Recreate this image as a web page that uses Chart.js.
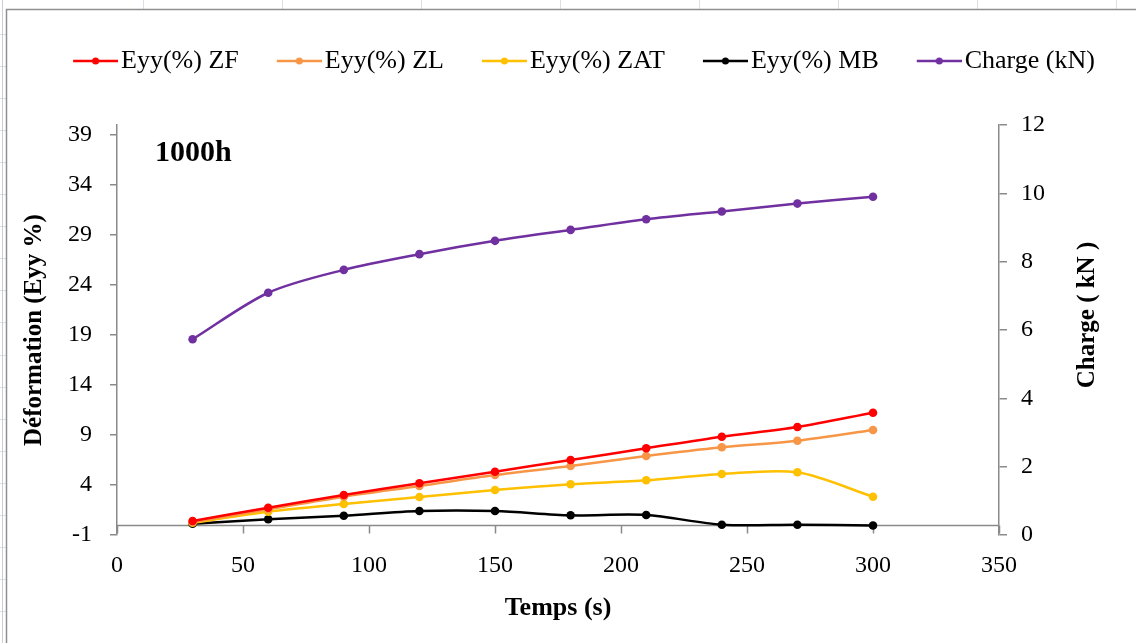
<!DOCTYPE html>
<html>
<head>
<meta charset="utf-8">
<script src="https://cdn.jsdelivr.net/npm/chart.js@4.4.1/dist/chart.umd.min.js"></script>
<style>
  html, body { margin: 0; padding: 0; background: #fff; }
  #wrap { width: 1136px; height: 643px; position: relative; }
</style>
</head>
<body>
<div id="wrap"><canvas id="c" width="1136" height="643"></canvas></div>
<script>
// Mesures : déformation Eyy (%) par zone et charge appliquée (kN) en fonction du temps
const temps   = [30, 60, 90, 120, 150, 180, 210, 240, 270, 300];
const eyyZF   = [0.40, 1.73, 3.00, 4.17, 5.33, 6.50, 7.67, 8.83, 9.80, 11.23];
const eyyZL   = [0.30, 1.57, 2.83, 3.90, 5.00, 5.90, 6.90, 7.77, 8.43, 9.50];
const eyyZAT  = [0.23, 1.33, 2.10, 2.80, 3.50, 4.07, 4.47, 5.10, 5.27, 2.83];
const eyyMB   = [0.13, 0.57, 0.93, 1.40, 1.40, 0.97, 1.00, 0.03, 0.03, -0.05];
const charge  = [5.73, 7.09, 7.76, 8.22, 8.61, 8.93, 9.24, 9.47, 9.70, 9.90];

const seriesNames = ['Eyy(%) ZF', 'Eyy(%) ZL', 'Eyy(%) ZAT', 'Eyy(%) MB', 'Charge (kN)'];
const leftTicks  = [-1, 4, 9, 14, 19, 24, 29, 34, 39];
const rightTicks = [0, 2, 4, 6, 8, 10, 12];
const xTicks     = [0, 50, 100, 150, 200, 250, 300, 350];
const annotation = '1000h';

const COLORS = ['#FF0000', '#F79646', '#FFC000', '#000000', '#7030A0'];
const AXIS = '#8a8a8a';
const SERIF = '"Liberation Serif", "Times New Roman", serif';

const toPoints = ys => temps.map((t, i) => ({ x: t, y: ys[i] }));

function lineDataset(label, ys, color, axis) {
  return {
    label, data: toPoints(ys), yAxisID: axis,
    borderColor: color, backgroundColor: color,
    pointBackgroundColor: color, pointBorderColor: color,
    borderWidth: 2.5, pointRadius: 4.3, pointBorderWidth: 0, pointHoverRadius: 4.3,
    tension: 0.3, fill: false
  };
}

// legend swatch: short line with a dot in the middle
const SW_W = 83;
function swatch(color) {
  const c = document.createElement('canvas');
  c.width = SW_W; c.height = 12;
  const g = c.getContext('2d');
  g.strokeStyle = color; g.lineWidth = 2.5;
  g.beginPath(); g.moveTo(SW_W - 45, 6); g.lineTo(SW_W, 6); g.stroke();
  g.fillStyle = color;
  g.beginPath(); g.arc(SW_W - 22.5, 6, 3.5, 0, Math.PI * 2); g.fill();
  return c;
}
const swatches = COLORS.map(swatch);

// sheet background, frame, x axis line at y = 0, annotation and secondary title
const decor = {
  id: 'decor',
  beforeDraw(chart) {
    const ctx = chart.ctx;
    ctx.save();
    ctx.fillStyle = '#fff';
    ctx.fillRect(0, 0, chart.width, chart.height);
    ctx.strokeStyle = '#dcdfe3'; ctx.lineWidth = 1;
    for (let x = 143.5; x < chart.width; x += 139) {
      ctx.beginPath(); ctx.moveTo(x, 0); ctx.lineTo(x, 9); ctx.stroke();
    }
    for (let y = 33.5; y < chart.height; y += 32.1) {
      ctx.beginPath(); ctx.moveTo(0, Math.round(y) + 0.5); ctx.lineTo(6, Math.round(y) + 0.5); ctx.stroke();
    }
    ctx.strokeStyle = '#c8ced8';
    ctx.beginPath(); ctx.moveTo(2.5, 0); ctx.lineTo(2.5, chart.height); ctx.stroke();
    ctx.strokeStyle = '#8f8f8f'; ctx.lineWidth = 1.5;
    ctx.beginPath();
    ctx.moveTo(6.5, chart.height); ctx.lineTo(6.5, 9.5); ctx.lineTo(chart.width, 9.5);
    ctx.stroke();
    ctx.restore();
  },
  beforeDatasetsDraw(chart) {
    const { ctx, chartArea, scales } = chart;
    const y0 = Math.round(scales.yL.getPixelForValue(0)) + 0.5;
    ctx.save();
    ctx.strokeStyle = AXIS; ctx.lineWidth = 1.5;
    ctx.beginPath(); ctx.moveTo(chartArea.left, y0); ctx.lineTo(chartArea.right, y0); ctx.stroke();
    xTicks.forEach(v => {
      const px = Math.round(scales.x.getPixelForValue(v)) + 0.5;
      ctx.beginPath(); ctx.moveTo(px, y0); ctx.lineTo(px, y0 + 8); ctx.stroke();
    });
    ctx.restore();
  },
  afterDraw(chart) {
    const { ctx, chartArea } = chart;
    ctx.save();
    ctx.fillStyle = '#000';
    ctx.font = 'bold 30px ' + SERIF;
    ctx.textAlign = 'left'; ctx.textBaseline = 'middle';
    ctx.fillText(annotation, chartArea.left + 38, chartArea.top + 28);
    ctx.translate(chartArea.right + 89, (chartArea.top + chartArea.bottom) / 2 - 15);
    ctx.rotate(-Math.PI / 2);
    ctx.font = 'bold 25px ' + SERIF;
    ctx.textAlign = 'center';
    ctx.fillText('Charge ( kN )', 0, 0);
    ctx.restore();
  }
};

new Chart(document.getElementById('c'), {
  type: 'line',
  data: {
    datasets: [
      lineDataset(seriesNames[0], eyyZF, COLORS[0], 'yL'),
      lineDataset(seriesNames[1], eyyZL, COLORS[1], 'yL'),
      lineDataset(seriesNames[2], eyyZAT, COLORS[2], 'yL'),
      lineDataset(seriesNames[3], eyyMB, COLORS[3], 'yL'),
      lineDataset(seriesNames[4], charge, COLORS[4], 'yR')
    ]
  },
  options: {
    responsive: false,
    animation: false,
    devicePixelRatio: 1,
    layout: { padding: { top: 38, left: 4, right: 0, bottom: 0 } },
    plugins: {
      tooltip: { enabled: false },
      legend: {
        position: 'top',
        weight: 3000,
        labels: {
          usePointStyle: true,
          pointStyleWidth: 63,
          padding: 10,
          color: '#000',
          font: { family: SERIF, size: 26 },
          generateLabels(chart) {
            const items = Chart.defaults.plugins.legend.labels.generateLabels(chart);
            items.forEach((it, i) => { it.pointStyle = swatches[i]; it.rotation = 0; });
            return items;
          }
        }
      },
      title: {
        display: true, text: '',
        padding: { top: 0, bottom: 31 },
        font: { size: 10, lineHeight: 1 }
      }
    },
    scales: {
      x: {
        type: 'linear', min: 0, max: 350,
        afterBuildTicks: s => { s.ticks = xTicks.map(v => ({ value: v })); },
        afterFit: s => { s.height = 108; },
        grid: { display: false },
        border: { display: false },
        ticks: { color: '#000', font: { family: SERIF, size: 24 }, padding: 8, maxRotation: 0 },
        title: {
          display: true, text: 'Temps (s)', color: '#000',
          font: { family: SERIF, size: 26, weight: 'bold' },
          padding: { top: 0, bottom: 19 }
        }
      },
      yL: {
        type: 'linear', position: 'left', min: -1, max: 40,
        afterBuildTicks: s => { s.ticks = leftTicks.map(v => ({ value: v })); },
        afterFit: s => { s.width = 113; },
        grid: { drawOnChartArea: false, drawTicks: true, tickLength: 7, color: AXIS, lineWidth: 1.5 },
        border: { color: AXIS, width: 1.5 },
        ticks: { color: '#000', font: { family: SERIF, size: 24 }, padding: 18 },
        title: {
          display: true, text: 'Déformation (Eyy %)', color: '#000',
          font: { family: SERIF, size: 25, weight: 'bold' },
          padding: { top: 16, bottom: 0 }
        }
      },
      yR: {
        type: 'linear', position: 'right', min: 0, max: 12,
        afterBuildTicks: s => { s.ticks = rightTicks.map(v => ({ value: v })); },
        afterFit: s => { s.width = 137; },
        grid: { drawOnChartArea: false, drawTicks: true, tickLength: 8, color: AXIS, lineWidth: 1.5 },
        border: { color: AXIS, width: 1.5 },
        ticks: { color: '#000', font: { family: SERIF, size: 24 }, padding: 14 }
      }
    }
  },
  plugins: [decor]
});
</script>
</body>
</html>
